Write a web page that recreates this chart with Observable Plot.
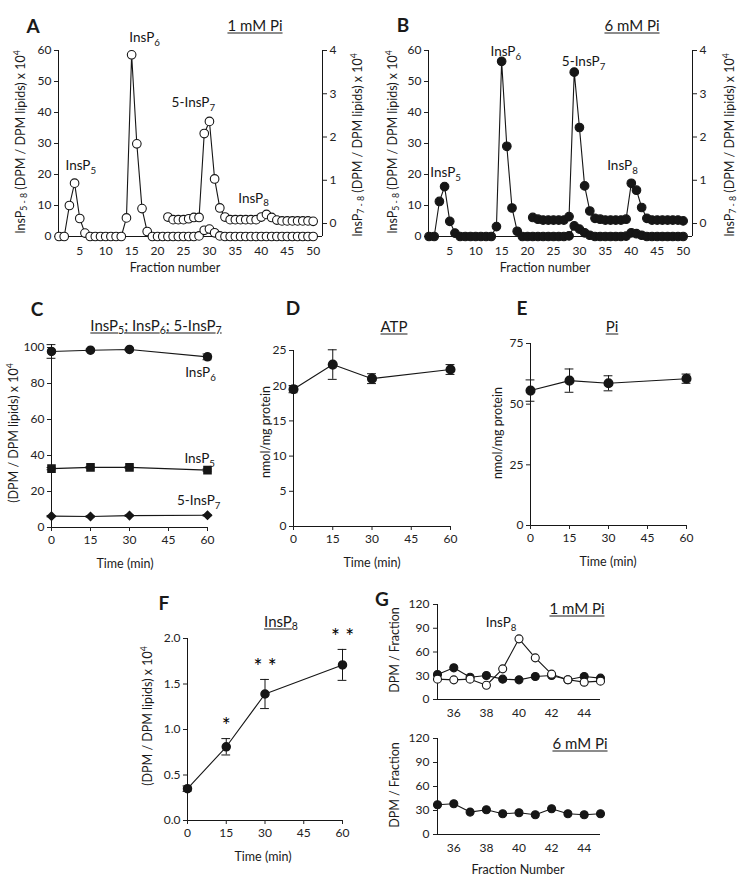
<!DOCTYPE html>
<html>
<head>
<meta charset="utf-8">
<script src="https://cdn.jsdelivr.net/npm/d3@7"></script>
<script src="https://cdn.jsdelivr.net/npm/@observablehq/plot@0.6"></script>
<style>
  html, body { margin: 0; background: #fff; }
  #fig { position: relative; width: 741px; height: 876px; overflow: hidden;
         font-family: Lato, "Open Sans", sans-serif; color: #1a1a1a; background: #fff; }
  .t { position: absolute; white-space: nowrap; line-height: 1; transform: translate(-50%, -50%); }
  .t.rot { transform: translate(-50%, -50%) rotate(-90deg); }
  .letter { font-weight: 700; font-size: 19px; }
  .head { font-size: 15px; text-decoration: underline; text-underline-offset: 2px; }
  .axis { font-size: 12.5px; }
  sub, sup { font-size: 70%; line-height: 0; }
  sub { vertical-align: -0.3em; }
  sup { vertical-align: 0.6em; }
</style>
</head>
<body>
<div id="fig"></div>
<script>
// ---------------- Data ----------------
// HPLC fractions 1–50
const fractions = d3.range(1, 51);
const fractionTicks = [5, 10, 15, 20, 25, 30, 35, 40, 45, 50];

// A – 1 mM Pi: InsP5–InsP8 elution profile, (DPM / DPM lipids) x 10^4
const a_insP = [
  0, 0, 10, 17.2, 5.8, 1.1, 0, 0, 0, 0,
  0, 0, 0, 6, 58.6, 29.9, 9, 1.6, 0, 0,
  0, 0, 0, 0, 0, 0, 0, 0.2, 2, 2.4,
  1.2, 0.2, 0, 0, 0, 0, 0, 0, 0, 0,
  0, 0, 0, 0, 0, 0, 0, 0, 0, 0
];
// A – InsP7/InsP8 region on the expanded right-hand scale, fractions 22–50
const a_zoomStart = 22;
const a_zoom = [
  0.15, 0.09, 0.09, 0.09, 0.11, 0.14, 0.14, 2.08, 2.36, 1.03,
  0.36, 0.15, 0.09, 0.09, 0.09, 0.09, 0.09, 0.09, 0.15, 0.21,
  0.14, 0.08, 0.06, 0.06, 0.06, 0.06, 0.06, 0.06, 0.05
];

// B – 6 mM Pi
const b_insP = [
  0, 0, 11.3, 16.1, 4.9, 1.1, 0, 0, 0, 0,
  0, 0, 0, 3.2, 56.5, 29.1, 9.2, 1.7, 0, 0,
  0, 0, 0, 0, 0, 0, 0, 0.2, 3.4, 2.4,
  1.2, 0.4, 0, 0, 0, 0, 0, 0, 0.1, 1.2,
  0.9, 0.4, 0, 0, 0, 0, 0, 0, 0, 0
];
// B – expanded right-hand scale, fractions 21–50
const b_zoomStart = 21;
const b_zoom = [
  0.14, 0.10, 0.08, 0.08, 0.08, 0.08, 0.08, 0.16, 3.5, 2.22,
  0.87, 0.29, 0.12, 0.10, 0.08, 0.08, 0.08, 0.08, 0.10, 0.93,
  0.77, 0.37, 0.12, 0.08, 0.08, 0.08, 0.08, 0.08, 0.08, 0.06
];

// C–F: time course (min)
const times = [0, 15, 30, 60];
const timeTicks = [0, 15, 30, 45, 60];
const c_insP6 = [97.8, 98.5, 98.9, 94.8];
const c_insP6_sd = [3.8, 0.6, 0.6, 1.6];
const c_insP5 = [32.7, 33.4, 33.4, 31.9];
const c_insP5_sd = [0.6, 0.5, 0.5, 0.6];
const c_insP7 = [6.3, 6.1, 6.6, 6.8];
const c_insP7_sd = [0.4, 0.4, 0.4, 0.4];
const d_atp = [19.5, 23.0, 21.0, 22.3];
const d_atp_sd = [0.5, 2.1, 0.7, 0.7];
const e_pi = [55.6, 59.7, 58.6, 60.5];
const e_pi_sd = [4.4, 4.8, 3.1, 1.9];
const f_insP8 = [0.35, 0.81, 1.39, 1.71];
const f_insP8_sd = [0.03, 0.09, 0.16, 0.17];
const f_signif = ["", "*", "* *", "* *"];

// G – DPM per fraction around the InsP8 peak
const g_fractions = [35, 36, 37, 38, 39, 40, 41, 42, 43, 44, 45];
const g_ticks = [36, 38, 40, 42, 44];
const g_1mM_ctrl = [31.6, 40, 28.2, 30.3, 25.7, 24.8, 29, 30.3, 25, 29, 27];
const g_1mM_insP8 = [25.7, 24.8, 25.7, 18, 38.7, 76.6, 52.6, 32, 25, 21.9, 23.2];
const g_6mM = [37.2, 38.5, 28, 31, 25.9, 27.2, 24.7, 32.2, 25.9, 24.7, 25.9];

// ---------------- Helpers ----------------
const FONT = "Lato, 'Open Sans', sans-serif";
const INK = "#161616";
const fig = document.getElementById("fig");
const baseStyle = {fontFamily: FONT, fontSize: "12px", color: "#222", background: "none", overflow: "visible"};

// Turn "InsP_{6}" / "10^{4}" inside SVG text into sub/superscript tspans
function subify(svg) {
  svg.querySelectorAll("text").forEach(t => {
    const s = t.textContent;
    if (!/[_^]\{/.test(s) || t.querySelector("tspan")) return;
    const fs = parseFloat(getComputedStyle(t).fontSize) || 12;
    const parts = s.split(/([_^]\{[^}]*\})/).filter(p => p !== "");
    while (t.firstChild) t.removeChild(t.firstChild);
    let shift = 0;
    for (const p of parts) {
      const ts = document.createElementNS("http://www.w3.org/2000/svg", "tspan");
      let target = 0, txt = p;
      if (p.startsWith("_{")) { target = 0.28 * fs; txt = p.slice(2, -1); ts.setAttribute("font-size", 0.72 * fs); }
      else if (p.startsWith("^{")) { target = -0.45 * fs; txt = p.slice(2, -1); ts.setAttribute("font-size", 0.72 * fs); }
      ts.setAttribute("dy", target - shift);
      shift = target;
      ts.textContent = txt;
      t.appendChild(ts);
    }
  });
}

function put(svg, left, top) {
  svg.style.position = "absolute";
  svg.style.left = left + "px";
  svg.style.top = top + "px";
  fig.appendChild(svg);
  subify(svg);
  return svg;
}

function label(html, x, y, cls, rot) {
  const d = document.createElement("div");
  d.className = "t " + cls + (rot ? " rot" : "");
  d.innerHTML = html;
  d.style.left = x + "px";
  d.style.top = y + "px";
  fig.appendChild(d);
}

// ---------------- A & B: chromatograms with a second (expanded) y axis ----------------
const X_DOM = [0.9, 51.8];
function chromatogram({left, values, zoomStart, zoom, fill, notes}) {
  const low = fractions.map((f, i) => ({f, v: values[i]}));
  const up = zoom.map((v, i) => ({f: zoomStart + i, v}));
  const frame = {width: 370, height: 280, marginLeft: 58, marginRight: 48, marginTop: 50, marginBottom: 44, style: baseStyle};
  const main = Plot.plot({
    ...frame,
    x: {domain: X_DOM},
    y: {domain: [0, 60]},
    marks: [
      Plot.ruleX([X_DOM[0]], {stroke: INK}),
      Plot.ruleY([0], {stroke: INK}),
      Plot.axisY({ticks: [0, 10, 20, 30, 40, 50, 60], tickSize: 4, tickPadding: 3, label: null}),
      Plot.axisX({ticks: fractionTicks, tickSize: 0, tickPadding: 10, label: null}),
      Plot.line(low, {x: "f", y: "v", stroke: INK, strokeWidth: 1.1}),
      Plot.dot(low, {x: "f", y: "v", r: 4.3, fill, stroke: INK, strokeWidth: 1.1}),
      ...notes.map(n => Plot.text([n.text], {x: n.x, y: n.y, text: d => d, fontSize: 13.5, fill: INK}))
    ]
  });
  const expanded = Plot.plot({
    ...frame,
    x: {domain: X_DOM, axis: null},
    y: {domain: [-0.3, 4]},
    marks: [
      Plot.ruleX([X_DOM[1]], {stroke: INK}),
      Plot.axisY({anchor: "right", ticks: [0, 1, 2, 3, 4], tickFormat: d3.format("d"), tickSize: 4, tickPadding: 3, label: null}),
      Plot.line(up, {x: "f", y: "v", stroke: INK, strokeWidth: 1.1}),
      Plot.dot(up, {x: "f", y: "v", r: 4.3, fill, stroke: INK, strokeWidth: 1.1})
    ]
  });
  put(main, left, 0);
  put(expanded, left, 0);
}

chromatogram({
  left: 0, values: a_insP, zoomStart: a_zoomStart, zoom: a_zoom, fill: "white",
  notes: [
    {text: "InsP_{5}", x: 5.2, y: 22.9},
    {text: "InsP_{6}", x: 17.5, y: 64.2},
    {text: "5-InsP_{7}", x: 26.9, y: 43.2},
    {text: "InsP_{8}", x: 38.5, y: 12.3}
  ]
});
chromatogram({
  left: 370, values: b_insP, zoomStart: b_zoomStart, zoom: b_zoom, fill: INK,
  notes: [
    {text: "InsP_{5}", x: 4.2, y: 20.6},
    {text: "InsP_{6}", x: 15.8, y: 59.7},
    {text: "5-InsP_{7}", x: 30.8, y: 56.4},
    {text: "InsP_{8}", x: 38.3, y: 22.9}
  ]
});

// ---------------- C–F: time courses ----------------
function timeCourse({left, top, width, height, mt, mr, mb, ml, yDomain, yTicks, yFormat, series, extra = []}) {
  const marks = [
    Plot.ruleX([0], {stroke: INK}),
    Plot.ruleY([yDomain[0]], {stroke: INK}),
    Plot.axisY({ticks: yTicks, tickSize: 4, tickPadding: 3, tickFormat: yFormat, label: null}),
    Plot.axisX({ticks: timeTicks, tickSize: 4, tickPadding: 4, label: null})
  ];
  for (const s of series) {
    const rows = times.map((t, i) => ({t, v: s.values[i], e: s.sd[i]}));
    marks.push(
      Plot.ruleX(rows, {x: "t", y1: d => d.v - d.e, y2: d => d.v + d.e, stroke: INK}),
      Plot.ruleY(rows, {y: d => d.v + d.e, x1: d => d.t - 1.7, x2: d => d.t + 1.7, stroke: INK}),
      Plot.ruleY(rows, {y: d => d.v - d.e, x1: d => d.t - 1.7, x2: d => d.t + 1.7, stroke: INK}),
      Plot.line(rows, {x: "t", y: "v", stroke: INK, strokeWidth: 1.1}),
      Plot.dot(rows, {x: "t", y: "v", r: s.r ?? 4, symbol: s.symbol ?? "circle", rotate: s.rotate ?? 0, fill: INK, stroke: INK})
    );
  }
  const svg = Plot.plot({
    width, height, marginTop: mt, marginRight: mr, marginBottom: mb, marginLeft: ml,
    style: baseStyle,
    x: {domain: [0, 60]},
    y: {domain: yDomain},
    marks: [...marks, ...extra]
  });
  put(svg, left, top);
}

// C
timeCourse({
  left: 0, top: 280, width: 260, height: 300, mt: 67, mr: 53, mb: 53, ml: 51,
  yDomain: [0, 100], yTicks: [0, 20, 40, 60, 80, 100],
  series: [
    {values: c_insP6, sd: c_insP6_sd, symbol: "circle", r: 4},
    {values: c_insP5, sd: c_insP5_sd, symbol: "square", r: 4},
    {values: c_insP7, sd: c_insP7_sd, symbol: "square", rotate: 45, r: 3.2}
  ],
  extra: [
    Plot.text(["InsP_{6}"], {x: 57.3, y: 86.1, text: d => d, fontSize: 13.5, fill: INK}),
    Plot.text(["InsP_{5}"], {x: 57, y: 38, text: d => d, fontSize: 13.5, fill: INK}),
    Plot.text(["5-InsP_{7}"], {x: 56.6, y: 15, text: d => d, fontSize: 13.5, fill: INK})
  ]
});
// D
timeCourse({
  left: 260, top: 280, width: 240, height: 300, mt: 70, mr: 50, mb: 54, ml: 33,
  yDomain: [0, 25], yTicks: [0, 5, 10, 15, 20, 25],
  series: [{values: d_atp, sd: d_atp_sd, r: 4.3}]
});
// E
timeCourse({
  left: 500, top: 280, width: 241, height: 300, mt: 63, mr: 55, mb: 55, ml: 30,
  yDomain: [0, 75], yTicks: [0, 25, 50, 75],
  series: [{values: e_pi, sd: e_pi_sd, r: 4.3}]
});
// F
timeCourse({
  left: 120, top: 580, width: 240, height: 296, mt: 58, mr: 18, mb: 56, ml: 67,
  yDomain: [0, 2], yTicks: [0, 0.5, 1, 1.5, 2], yFormat: d3.format(".1f"),
  series: [{values: f_insP8, sd: f_insP8_sd, r: 4}],
  extra: [
    Plot.text(times.map((t, i) => ({t, top: f_insP8[i] + f_insP8_sd[i], s: f_signif[i]})),
      {x: "t", y: "top", text: "s", dy: -12, fontSize: 21, fill: "#000"})
  ]
});

// ---------------- G: fractions 35–45 ----------------
function fractionPanel({top, height, mt, mb, series, extra = []}) {
  const marks = [
    Plot.ruleX([35], {stroke: INK}),
    Plot.ruleY([0], {stroke: INK}),
    Plot.axisY({ticks: [0, 30, 60, 90, 120], tickSize: 4, tickPadding: 4, label: null}),
    Plot.axisX({ticks: g_ticks, tickSize: 0, tickPadding: 9, label: null})
  ];
  for (const s of series) {
    const rows = g_fractions.map((f, i) => ({f, v: s.values[i]}));
    marks.push(
      Plot.line(rows, {x: "f", y: "v", stroke: INK, strokeWidth: 1.1}),
      Plot.dot(rows, {x: "f", y: "v", r: 4, fill: s.fill, stroke: INK, strokeWidth: 1.1})
    );
  }
  const svg = Plot.plot({
    width: 300, height, marginTop: mt, marginRight: 80, marginBottom: mb, marginLeft: 57,
    style: baseStyle,
    x: {domain: [35, 45]},
    y: {domain: [0, 120]},
    marks: [...marks, ...extra]
  });
  put(svg, 380, top);
}
fractionPanel({
  top: 580, height: 140, mt: 24, mb: 21,
  series: [{values: g_1mM_ctrl, fill: INK}, {values: g_1mM_insP8, fill: "white"}],
  extra: [Plot.text(["InsP_{8}"], {x: 38.9, y: 97, text: d => d, fontSize: 13.5, fill: INK})]
});
fractionPanel({
  top: 720, height: 156, mt: 18, mb: 42,
  series: [{values: g_6mM, fill: INK}]
});

// ---------------- Panel letters, headings and axis titles ----------------
[["A", 33, 25], ["B", 403, 24], ["C", 37, 308], ["D", 293, 307], ["E", 522, 307], ["F", 164, 602], ["G", 382, 598]]
  .forEach(([s, x, y]) => label(s, x, y, "letter"));

label("1 mM Pi", 255, 25, "head");
label("6 mM Pi", 632, 25, "head");
label("InsP<sub>5</sub>; InsP<sub>6</sub>; 5-InsP<sub>7</sub>", 156, 325, "head");
label("ATP", 394, 326, "head");
label("Pi", 612, 326, "head");
label("InsP<sub>8</sub>", 281, 621, "head");
label("1 mM Pi", 577, 608, "head");
label("6 mM Pi", 580, 743, "head");

label("Fraction number", 175, 268, "axis");
label("Fraction number", 545, 268, "axis");
label("Time (min)", 125, 564, "axis");
label("Time (min)", 372, 563, "axis");
label("Time (min)", 608, 562, "axis");
label("Time (min)", 263, 857, "axis");
label("Fraction Number", 518, 870, "axis");

const yLeftAB = "InsP<sub>5 - 8</sub> (DPM / DPM lipids) x 10<sup>4</sup>";
const yRightAB = "InsP<sub>7 - 8</sub> (DPM / DPM lipids) x 10<sup>4</sup>";
label(yLeftAB, 21, 142, "axis", true);
label(yRightAB, 358, 145, "axis", true);
label(yLeftAB, 393, 142, "axis", true);
label(yRightAB, 730, 145, "axis", true);
label("(DPM / DPM lipids) x 10<sup>4</sup>", 14, 433, "axis", true);
label("nmol/mg protein", 266, 432, "axis", true);
label("nmol/mg protein", 498, 433, "axis", true);
label("(DPM / DPM lipids) x 10<sup>4</sup>", 148, 716, "axis", true);
label("DPM / Fraction", 395, 650, "axis", true);
label("DPM / Fraction", 395, 785, "axis", true);
</script>
</body>
</html>
